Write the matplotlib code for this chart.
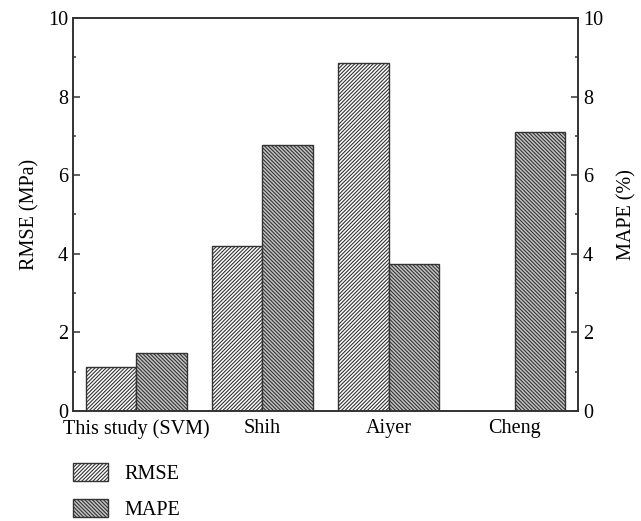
import matplotlib
matplotlib.use('Agg')
import matplotlib.pyplot as plt
import numpy as np
from matplotlib.patches import Patch
from matplotlib.ticker import MultipleLocator

plt.rcParams['font.family'] = ['Liberation Serif', 'DejaVu Serif']
plt.rcParams['font.size'] = 14.5
plt.rcParams['hatch.linewidth'] = 0.8

methods = ['This study (SVM)', 'Shih', 'Aiyer', 'Cheng']
rmse = [1.12, 4.2, 8.85, 0.0]
mape = [1.47, 6.77, 3.75, 7.1]

fig = plt.figure(figsize=(6.41, 5.21), dpi=100)
ax = fig.add_axes([0.1139, 0.2111, 0.7878, 0.7544])

x = np.arange(len(methods))
w = 0.4
edge = '#333333'
h1 = '/' * 9
h2 = '\\' * 9
ax.bar(x - w / 2, rmse, w, color='white', edgecolor=edge, hatch=h1, linewidth=1.0)
ax.bar(x + w / 2, mape, w, color='#c4c4c4', edgecolor=edge, hatch=h2, linewidth=1.0)

ax.set_xlim(-0.5, 3.5)
ax.set_ylim(0, 10)
ax.set_xticks(x)
ax.set_xticklabels(methods)
ax.tick_params(axis='x', length=0, pad=6)
ax.yaxis.set_major_locator(MultipleLocator(2))
ax.yaxis.set_minor_locator(MultipleLocator(1))
ax.tick_params(axis='y', which='major', direction='in', length=5, width=1.1, color=edge)
ax.tick_params(axis='y', which='minor', direction='in', length=2.5, width=1.1, color=edge)
ax.set_ylabel('RMSE (MPa)', labelpad=6)
for s in ax.spines.values():
    s.set_linewidth(1.2)
    s.set_color(edge)

ax2 = ax.twinx()
ax2.set_ylim(0, 10)
ax2.yaxis.set_major_locator(MultipleLocator(2))
ax2.yaxis.set_minor_locator(MultipleLocator(1))
ax2.tick_params(axis='y', which='major', direction='in', length=5, width=1.1, color=edge)
ax2.tick_params(axis='y', which='minor', direction='in', length=2.5, width=1.1, color=edge)
ax2.set_ylabel('MAPE (%)', labelpad=10)
for s in ax2.spines.values():
    s.set_linewidth(1.2)
    s.set_color(edge)

handles = [
    Patch(facecolor='white', edgecolor=edge, hatch=h1, label='RMSE'),
    Patch(facecolor='#c4c4c4', edgecolor=edge, hatch=h2, label='MAPE'),
]
fig.legend(handles=handles, loc='upper left', bbox_to_anchor=(0.098, 0.13),
           frameon=False, handlelength=1.75, handleheight=1.0,
           labelspacing=0.75, handletextpad=0.8, borderpad=0)

fig.savefig('out.png', dpi=100)
